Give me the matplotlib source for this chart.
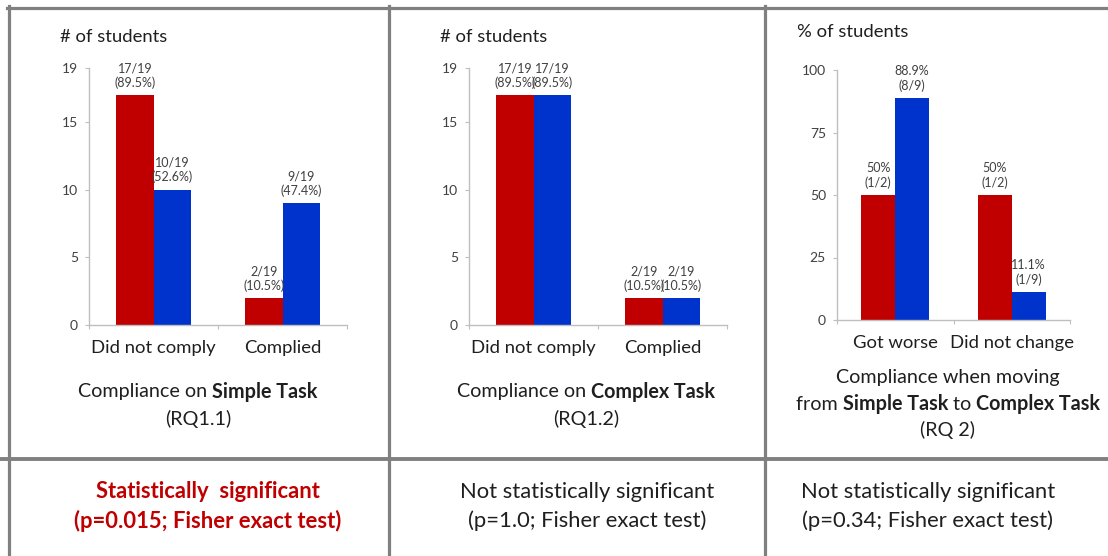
import matplotlib
matplotlib.use("Agg")
import matplotlib.pyplot as plt
from matplotlib.lines import Line2D

# %%
# Data for the three compliance panels
n_students = 19

rq11_categories = ["Did not comply", "Complied"]
rq11_red = [17, 2]
rq11_blue = [10, 9]

rq12_categories = ["Did not comply", "Complied"]
rq12_red = [17, 2]
rq12_blue = [17, 2]

rq2_categories = ["Got worse", "Did not change"]
rq2_red_num = [1, 1]
rq2_red_den = [2, 2]
rq2_blue_num = [8, 1]
rq2_blue_den = [9, 9]

rq11_ticks = [0, 5, 10, 15, 19]
rq12_ticks = [0, 5, 10, 15, 19]
rq2_ticks = [0, 25, 50, 75, 100]

bottom_texts = [
    ("Statistically  significant", "(p=0.015; Fisher exact test)"),
    ("Not statistically significant", "(p=1.0; Fisher exact test)"),
    ("Not statistically significant", "(p=0.34; Fisher exact test)"),
]

RED = "#C00000"
BLUE = "#0033CC"
GRID = "#808080"
AXIS = "#BFBFBF"
TXT = "#1F1F1F"
LBL = "#404040"

plt.rcParams["font.family"] = ["Lato", "DejaVu Sans"]

W, H = 1108, 556
fig = plt.figure(figsize=(W / 100, H / 100), dpi=100)
fig.patch.set_facecolor("white")


def fx(x):
    return x / W


def fy(y):
    return 1 - y / H


def panel_axes(x0, x1, ytop, ybot):
    return fig.add_axes([fx(x0), fy(ybot), (x1 - x0) / W, (ybot - ytop) / H])


def count_label(n):
    return f"{n}/{n_students}\n({n / n_students * 100:.1f}%)"


def pct_label(num, den):
    return f"{round(num / den * 100, 1):g}%\n({num}/{den})"


def draw_bars(ax, cats, red, blue, red_lbls, blue_lbls, ymax, ticks):
    x = list(range(len(cats)))
    w = 0.29
    b1 = ax.bar([i - w / 2 for i in x], red, w, color=RED, zorder=2)
    b2 = ax.bar([i + w / 2 for i in x], blue, w, color=BLUE, zorder=2)
    for bars, lbls in ((b1, red_lbls), (b2, blue_lbls)):
        for bar, s in zip(bars, lbls):
            ax.annotate(s, (bar.get_x() + bar.get_width() / 2, bar.get_height()),
                        xytext=(0, 4.5), textcoords="offset points",
                        ha="center", va="bottom", fontsize=9, color=LBL,
                        linespacing=1.2)
    ax.set_xlim(-0.5, len(cats) - 0.5)
    ax.set_ylim(0, ymax)
    ax.set_yticks(ticks)
    ax.set_xticks(x)
    ax.set_xticklabels(cats, fontsize=13.3, color=TXT)
    ax.set_xticks([-0.5, 0.5, 1.5], minor=True)
    ax.tick_params(axis="x", which="major", length=0, pad=10.5)
    ax.tick_params(axis="x", which="minor", length=3, color=AXIS, width=0.8)
    ax.tick_params(axis="y", length=3, color=AXIS, width=0.8, labelsize=10,
                   labelcolor=LBL, pad=5)
    for s in ("top", "right"):
        ax.spines[s].set_visible(False)
    for s in ("left", "bottom"):
        ax.spines[s].set_color(AXIS)
        ax.spines[s].set_linewidth(1.0)
    ax.set_facecolor("none")


# %%
# Panel 1: simple task
ax1 = panel_axes(89, 347, 68, 325)
draw_bars(ax1, rq11_categories, rq11_red, rq11_blue,
          [count_label(v) for v in rq11_red], [count_label(v) for v in rq11_blue],
          n_students, rq11_ticks)

# Panel 2: complex task
ax2 = panel_axes(469, 727, 68, 325)
draw_bars(ax2, rq12_categories, rq12_red, rq12_blue,
          [count_label(v) for v in rq12_red], [count_label(v) for v in rq12_blue],
          n_students, rq12_ticks)

# Panel 3: moving from simple to complex
rq2_red = [n / d * 100 for n, d in zip(rq2_red_num, rq2_red_den)]
rq2_blue = [n / d * 100 for n, d in zip(rq2_blue_num, rq2_blue_den)]
ax3 = panel_axes(837, 1070, 70, 320)
draw_bars(ax3, rq2_categories, rq2_red, rq2_blue,
          [pct_label(n, d) for n, d in zip(rq2_red_num, rq2_red_den)],
          [pct_label(n, d) for n, d in zip(rq2_blue_num, rq2_blue_den)],
          100, rq2_ticks)

# axis titles
fig.text(fx(60), fy(37), "# of students", fontsize=13.3, color=TXT, va="center", ha="left")
fig.text(fx(440), fy(37), "# of students", fontsize=13.3, color=TXT, va="center", ha="left")
fig.text(fx(797), fy(32), "% of students", fontsize=13.3, color=TXT, va="center", ha="left")

# %%
# Captions with bold runs, centred by measuring each piece
renderer = fig.canvas.get_renderer()


def mixed_line(xc, y, parts, size=14.2):
    pieces = []
    for s, bold in parts:
        t = fig.text(0, fy(y), s, fontsize=size, color=TXT, va="center", ha="left",
                     fontweight="bold" if bold else "normal")
        pieces.append(t)
    widths = [t.get_window_extent(renderer).width for t in pieces]
    x = xc - sum(widths) / 2
    for t, w in zip(pieces, widths):
        t.set_x(fx(x))
        x += w


mixed_line(198, 392, [("Compliance on ", False), ("Simple Task", True)])
mixed_line(198, 419, [("(RQ1.1)", False)])
mixed_line(586, 392, [("Compliance on ", False), ("Complex Task", True)])
mixed_line(586, 419, [("(RQ1.2)", False)])
mixed_line(948, 378, [("Compliance when moving", False)])
mixed_line(948, 404, [("from ", False), ("Simple Task", True), (" to ", False), ("Complex Task", True)])
mixed_line(948, 430, [("(RQ 2)", False)])

# bottom row: significance results
centres = [208, 587, 928]
for i, (xc, (l1, l2)) in enumerate(zip(centres, bottom_texts)):
    col = RED if i == 0 else TXT
    wt = "bold" if i == 0 else "normal"
    fig.text(fx(xc), fy(492), l1, fontsize=15.8, color=col, fontweight=wt, ha="center", va="center")
    fig.text(fx(xc), fy(521), l2, fontsize=15.8, color=col, fontweight=wt, ha="center", va="center")

# %%
# table grid lines
lw = 2.3
fig.add_artist(Line2D([fx(7), 1], [fy(7.5), fy(7.5)], color=GRID, lw=lw))
fig.add_artist(Line2D([0, 1], [fy(459), fy(459)], color=GRID, lw=lw + 0.5))
for xv in (8.5, 389, 765):
    fig.add_artist(Line2D([fx(xv), fx(xv)], [fy(6), 0], color=GRID, lw=lw))

fig.savefig("out.png", dpi=100)
